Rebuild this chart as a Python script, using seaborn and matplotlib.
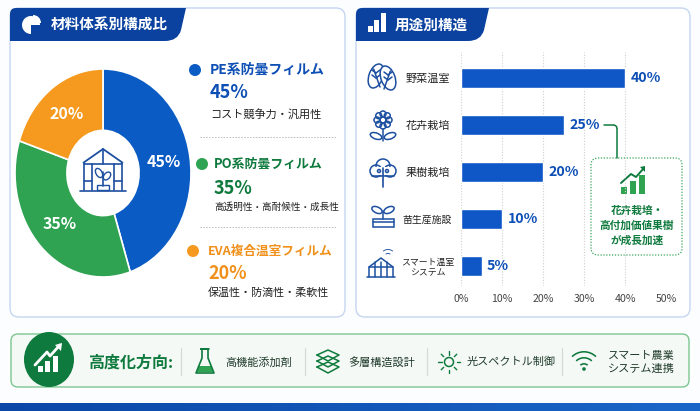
import numpy as np
import pandas as pd
import matplotlib
matplotlib.use('Agg')
import matplotlib.pyplot as plt
import seaborn as sns
from matplotlib.patches import Circle, Ellipse, FancyBboxPatch, PathPatch, Polygon, Rectangle, Wedge
from matplotlib.path import Path

sns.set_theme(style='white')
plt.rcParams['font.family'] = ['Noto Sans CJK JP', 'DejaVu Sans']

# data
material_names = ['PE系防曇フィルム', 'PO系防曇フィルム', 'EVA複合温室フィルム']
material_share = [45, 35, 20]
material_notes = ['コスト競争力・汎用性', '高透明性・高耐候性・成長性', '保温性・防滴性・柔軟性']
use_names = ['野菜温室', '花卉栽培', '果樹栽培', '苗生産施設', 'スマート温室\nシステム']
use_share = [40, 25, 20, 10, 5]
x_ticks = [0, 10, 20, 30, 40, 50]
callout_text = '花卉栽培・\n高付加価値果樹\nが成長加速'
direction_title = '高度化方向:'
direction_items = ['高機能添加剤', '多層構造設計', '光スペクトル制御', 'スマート農業\nシステム連携']

BLUE = '#0A5BC4'
GREEN = '#2FA352'
ORANGE = '#F59A1E'
NAVY = '#0B429F'
DARK_GREEN = '#0E7A3D'
ICON = '#1D4FA0'
TEXT_COL = ['#0D4FB5', '#0E7A3D', '#F0901A']

W, H = 700, 411
fig = plt.figure(figsize=(W / 100, H / 100), dpi=100, facecolor='#FCFDFE')


def px_axes(x0, y0, x1, y1):
    return fig.add_axes([x0 / W, 1 - y1 / H, (x1 - x0) / W, (y1 - y0) / H])


# background layer in pixel coordinates, for the panels and icons
bg = px_axes(0, 0, W, H)
bg.set_xlim(0, W)
bg.set_ylim(H, 0)
bg.axis('off')


def panel(x0, y0, x1, y1, fc, ec, r=9, lw=1.0):
    bg.add_patch(FancyBboxPatch((x0 + r, y0 + r), x1 - x0 - 2 * r, y1 - y0 - 2 * r,
                                boxstyle=f'round,pad={r},rounding_size={r}', fc=fc, ec=ec, lw=lw))


def header(x0, x1, x_low):
    verts = [(x0, 41), (x0, 14), (x0, 8), (x0 + 6, 8), (x1, 8), (x_low, 30), (x_low - 3, 41),
             (x_low - 16, 41), (x0, 41)]
    codes = [Path.MOVETO, Path.LINETO, Path.CURVE3, Path.CURVE3, Path.LINETO, Path.LINETO,
             Path.CURVE3, Path.CURVE3, Path.CLOSEPOLY]
    bg.add_patch(PathPatch(Path(verts, codes), fc=NAVY, ec='none'))


def line(xs, ys, c=ICON, lw=1.1, **kw):
    bg.plot(xs, ys, color=c, lw=lw, solid_capstyle='round', **kw)


def circ(x, y, r, c=ICON, lw=1.1, fc='none'):
    bg.add_patch(Circle((x, y), r, fc=fc, ec=c, lw=lw))


panel(10, 8, 345, 317, 'white', '#C5D6F0')
panel(356, 8, 690, 317, 'white', '#C5D6F0')
header(10, 186, 181)
header(356, 489, 484)
bg.text(51, 25, '材料体系別構成比', color='white', fontsize=10.5, weight='bold', va='center')
bg.text(395, 25, '用途別構造', color='white', fontsize=10.5, weight='bold', va='center')

# title icons
bg.add_patch(Wedge((31, 25), 9, 90, 360, fc='white', ec='none'))
bg.add_patch(Wedge((33, 23), 8, 270, 360, fc='white', ec='none'))
for x, top in [(368, 26), (374, 20), (381, 13)]:
    bg.add_patch(Rectangle((x, top), 5, 32 - top, fc='white', ec='none'))

# donut
ax_pie = px_axes(15, 69, 191, 277)
wedges, _, pct = ax_pie.pie(material_share, colors=[BLUE, GREEN, ORANGE], startangle=90, counterclock=False,
                            radius=1, autopct='%d%%', pctdistance=0.7,
                            wedgeprops={'width': 0.59, 'edgecolor': 'white', 'linewidth': 1.2})
for t in pct:
    t.set_color('white')
    t.set_fontsize(11.5)
    t.set_fontweight('bold')
ax_pie.set_aspect('auto')
ax_pie.set_xlim(-1.0, 1.0)
ax_pie.set_ylim(-1.0, 1.0)
ax_pie.patch.set_alpha(0)

# greenhouse in the hole of the donut
ax_icons = px_axes(0, 0, W, H)
ax_icons.set_xlim(0, W)
ax_icons.set_ylim(H, 0)
ax_icons.axis('off')
ax_icons.add_patch(Polygon([(83, 163), (103, 149), (123, 163)], closed=False, fc='none', ec=ICON, lw=1.3))
for xs, ys in [((84, 84), (163, 190)), ((122, 122), (163, 190)), ((80, 126), (191, 191)),
               ((84, 122), (164, 164)), ((103, 103), (149, 164)), ((92, 92), (164, 190)),
               ((114, 114), (164, 190)), ((84, 92), (181, 181)), ((114, 122), (181, 181)),
               ((103, 103), (186, 172))]:
    ax_icons.plot(xs, ys, color=ICON, lw=1.2)
ax_icons.add_patch(Ellipse((99, 173), 6, 10, angle=-30, fc='none', ec=ICON, lw=1))
ax_icons.add_patch(Ellipse((107, 176), 6, 9, angle=40, fc='none', ec=ICON, lw=1))
ax_icons.add_patch(Rectangle((97, 185), 12, 5, fc='none', ec=ICON, lw=1))

# legend text blocks
legend_pos = [(195, 210, 70, 92, 114), (202, 214, 164, 188, 207), (193, 208, 251, 273, 293)]
name_sizes = [10, 9.3, 9.1]
note_sizes = [8, 6.9, 7.9]
for i, (cx, tx, y1, y2, y3) in enumerate(legend_pos):
    bg.add_patch(Circle((cx, y1), 6, fc=[BLUE, GREEN, ORANGE][i], ec='none'))
    bg.text(tx, y1, material_names[i], color=TEXT_COL[i], fontsize=name_sizes[i], weight='bold', va='center')
    bg.text(tx, y2, f'{material_share[i]}%', color=TEXT_COL[i], fontsize=13, weight='bold', va='center')
    bg.text(tx, y3, material_notes[i], color='#222222', fontsize=note_sizes[i], va='center')
for y in (137, 227):
    bg.plot([200, 336], [y, y], color='#BBBBBB', lw=0.7, ls=(0, (1.5, 1.5)))

# bars
use_df = pd.DataFrame({'name': use_names, 'share': use_share})
ax_bar = px_axes(461, 52, 666, 286)
sns.barplot(data=use_df, x='share', y='name', ax=ax_bar, color='#0F56C6', saturation=1, width=0.43)
ax_bar.patch.set_alpha(0)
ax_bar.set_xlim(0, 50)
ax_bar.set_ylim(4.43, -0.55)
ax_bar.set_xlabel('')
ax_bar.set_ylabel('')
ax_bar.set_xticks(x_ticks, [f'{v}%' for v in x_ticks])
ax_bar.xaxis.grid(True, color='#CFCFCF', lw=0.8, ls=(0, (1, 1.5)))
ax_bar.set_axisbelow(True)
ax_bar.tick_params(axis='x', length=0, pad=6, labelsize=7.6, labelcolor='#444444')
ax_bar.tick_params(axis='y', length=0, pad=24, labelsize=7.8, labelcolor='#222222')
for lab, size in zip(ax_bar.get_yticklabels(), [8, 8, 8, 7.1, 6.4]):
    lab.set_ha('center')
    lab.set_fontsize(size)
    lab.set_linespacing(1.25)
sns.despine(ax=ax_bar, left=True, bottom=True)
ax_bar.bar_label(ax_bar.containers[0], fmt='%d%%', padding=4, color='#0D4FB5', fontsize=10.2, fontweight='bold')

# use icons
for dx, dy, ang in [(376, 76, 20), (388, 78, -20)]:
    bg.add_patch(Ellipse((dx, dy), 14, 25, angle=ang, fc='white', ec=ICON, lw=1.1))
    tip = 4 if ang > 0 else -4
    line([dx - tip * 0.6, dx + tip], [dy - 7, dy + 11])
    for off in (-3, 2):
        line([dx, dx + 4], [dy + off, dy + off - 3])
        line([dx, dx - 4], [dy + off, dy + off - 3])
for a in np.arange(0, 360, 45):
    circ(383 + 6 * np.cos(np.radians(a)), 120 + 6 * np.sin(np.radians(a)), 3)
circ(383, 120, 3)
line([383, 383], [129, 141])
bg.add_patch(Ellipse((376, 136), 12, 6, angle=20, fc='none', ec=ICON, lw=1.1))
bg.add_patch(Ellipse((390, 136), 12, 6, angle=-20, fc='none', ec=ICON, lw=1.1))
for cx, cy, r in [(383, 166, 7), (376, 171, 6), (390, 171, 6)]:
    circ(cx, cy, r)
bg.add_patch(Rectangle((375, 167), 16, 8, fc='white', ec='none', zorder=3))
line([372, 394], [176.5, 176.5])
line([383, 383], [168, 187], lw=1.2, zorder=4)
circ(379, 171, 1.5)
circ(387, 171, 1.5)
bg.patches[-1].set_zorder(4)
bg.patches[-2].set_zorder(4)
bg.add_patch(Rectangle((373, 219), 21, 8, fc='none', ec=ICON, lw=1.1))
line([373, 394], [222, 222])
line([383, 383], [219, 211])
bg.add_patch(Ellipse((377, 210), 11, 6, angle=25, fc='none', ec=ICON, lw=1.1))
bg.add_patch(Ellipse((389, 210), 11, 6, angle=-25, fc='none', ec=ICON, lw=1.1))
line([367, 395], [277, 277])
line([369, 369, 381, 393, 393], [277, 267, 258, 267, 277])
for x in (375, 381, 387):
    line([x, x], [262, 277])
line([369, 393], [267, 267])
for r in (4, 8):
    bg.add_patch(Wedge((388, 257), r, 230, 310, width=0.9, fc=ICON, ec='none'))

# callout
line([604, 613], [125, 125], c=DARK_GREEN, lw=1.1)
bg.add_patch(PathPatch(Path([(613, 125), (617, 125), (617, 129)], [Path.MOVETO, Path.CURVE3, Path.CURVE3]),
                       fc='none', ec=DARK_GREEN, lw=1.1))
line([617, 617], [129, 158], c=DARK_GREEN, lw=1.1)
panel(591, 158, 682, 255, 'white', '#3BA55D', r=7, lw=0.9)
bg.patches[-1].set_linestyle((0, (1, 1.3)))
for x, top in [(621, 187), (630, 181), (639, 175)]:
    bg.add_patch(Rectangle((x, top), 6, 194 - top, fc=GREEN, ec='none'))
line([621, 631, 636, 644], [183, 174, 177, 168], c=DARK_GREEN, lw=1.4)
bg.add_patch(Polygon([(640, 167), (645, 166), (645, 172)], fc=DARK_GREEN, ec='none'))
bg.text(637, 225.5, callout_text, color=DARK_GREEN, fontsize=7.7, weight='bold', ha='center', va='center',
        linespacing=1.55)

# bottom band
panel(11, 334, 689, 387, '#F5F9F6', '#7CC68F', r=7, lw=1.0)
bg.add_patch(Ellipse((49, 359.5), 50, 55, fc=DARK_GREEN, ec='none'))
for x, top in [(38, 366), (45, 361), (53, 356)]:
    bg.add_patch(Rectangle((x, top), 5, 372 - top, fc='white', ec='none'))
line([35, 47, 50, 60], [365, 352, 356, 345], c='white', lw=2)
bg.add_patch(Polygon([(55, 345), (62, 343), (61, 351)], fc='white', ec='none'))
bg.text(88, 362.5, direction_title, color=DARK_GREEN, fontsize=11.5, weight='bold', va='center')
for x in (181, 305, 427, 562):
    line([x, x], [348, 375], c='#D5DAD6', lw=0.9)
for x, txt in zip((225, 348, 467, 608), direction_items):
    bg.text(x, 362, txt, color='#1F3B2A', fontsize=8, va='center', linespacing=1.35)

# flask
line([202, 202, 196, 214, 208, 208, 201, 209], [349, 358, 373, 373, 358, 349, 349, 349], c=DARK_GREEN, lw=1.2)
bg.add_patch(Polygon([(199, 366), (211, 366), (213, 372), (197, 372)], fc=GREEN, ec='none'))
# layers
for dy in (0, 6, 12):
    line([317, 328, 339, 328, 317], [355 + dy, 350 + dy, 355 + dy, 361 + dy, 355 + dy], c=DARK_GREEN, lw=1.1)
# sun
circ(449, 362, 4.5, c=DARK_GREEN)
for a in np.arange(0, 360, 45):
    ca, sa = np.cos(np.radians(a)), np.sin(np.radians(a))
    line([449 + 7.5 * ca, 449 + 11 * ca], [362 + 7.5 * sa, 362 + 11 * sa], c=DARK_GREEN, lw=1)
# wifi
for r in (6, 12, 18):
    bg.add_patch(Wedge((584, 369), r, 226, 314, width=1.6, fc=DARK_GREEN, ec='none'))
bg.add_patch(Circle((584, 369), 1.8, fc=DARK_GREEN, ec='none'))

# blue strip at the bottom
ax_strip = px_axes(0, 403, W, H)
ax_strip.imshow(np.linspace(0, 1, 256)[None, :], aspect='auto',
                cmap=matplotlib.colors.LinearSegmentedColormap.from_list('s', ['#0B47A6', '#1A66C8']))
ax_strip.axis('off')

fig.savefig('out.png', dpi=100, facecolor=fig.get_facecolor())
